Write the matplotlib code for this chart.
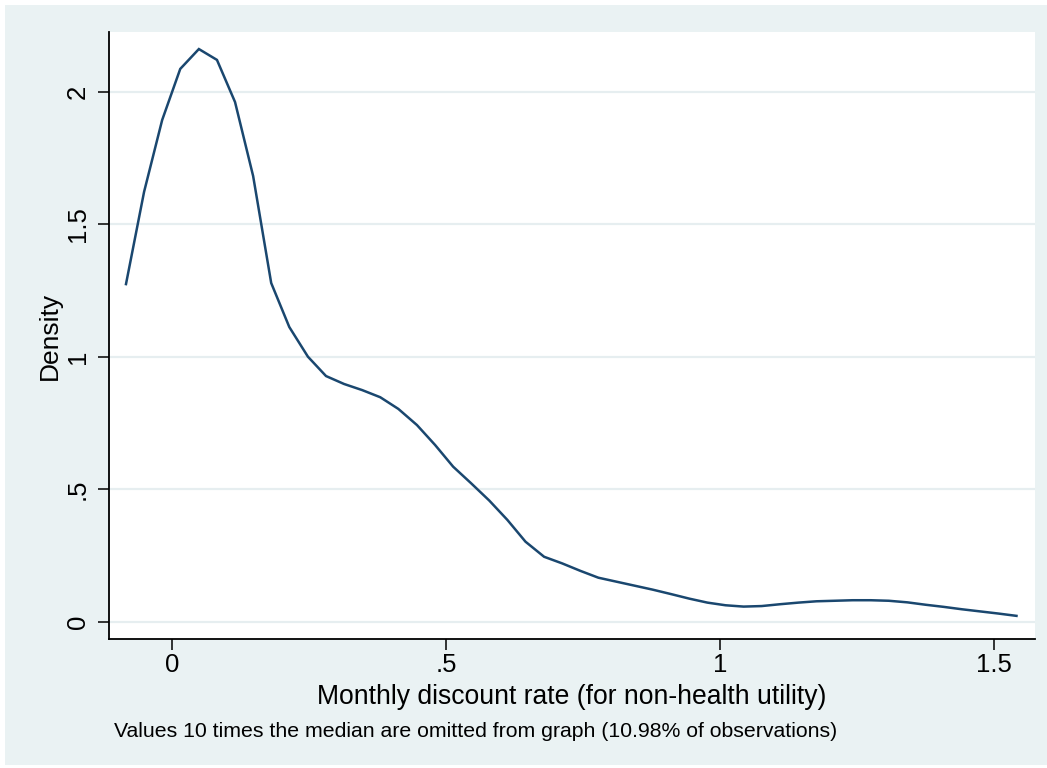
import matplotlib
matplotlib.use("Agg")
import matplotlib.pyplot as plt
from matplotlib.patches import Rectangle

# ---- data ----
rate = [-0.084, -0.051, -0.018, 0.015, 0.049, 0.082, 0.115, 0.148, 0.181, 0.214,
        0.248, 0.281, 0.314, 0.347, 0.380, 0.413, 0.447, 0.480, 0.513, 0.546,
        0.579, 0.612, 0.645, 0.679, 0.712, 0.745, 0.778, 0.811, 0.844, 0.877,
        0.911, 0.944, 0.977, 1.010, 1.043, 1.076, 1.110, 1.143, 1.176, 1.209,
        1.242, 1.275, 1.308, 1.342, 1.375, 1.408, 1.441, 1.474, 1.507, 1.541]
density = [1.274, 1.622, 1.893, 2.086, 2.161, 2.120, 1.961, 1.682, 1.278, 1.112,
           1.000, 0.927, 0.897, 0.874, 0.847, 0.803, 0.742, 0.667, 0.585, 0.522,
           0.457, 0.384, 0.302, 0.245, 0.220, 0.192, 0.166, 0.151, 0.136, 0.121,
           0.104, 0.087, 0.072, 0.062, 0.057, 0.059, 0.066, 0.072, 0.077, 0.079,
           0.081, 0.081, 0.079, 0.073, 0.064, 0.056, 0.047, 0.039, 0.031, 0.022]
xticks = [0, 0.5, 1, 1.5]
xticklabels = ["0", ".5", "1", "1.5"]
yticks = [0, 0.5, 1, 1.5, 2]
yticklabels = ["0", ".5", "1", "1.5", "2"]
xlabel = "Monthly discount rate (for non-health utility)"
ylabel = "Density"
note = "Values 10 times the median are omitted from graph (10.98% of observations)"

plt.rcParams['font.family'] = ['Liberation Sans', 'DejaVu Sans']

W, H = 1047, 768
fig = plt.figure(figsize=(W / 100, H / 100), dpi=100, facecolor='white')
bg = '#EAF2F3'
fig.patches.append(Rectangle((5 / W, 3 / H), (W - 5) / W, (H - 8) / H,
                             transform=fig.transFigure, facecolor=bg,
                             edgecolor='none', zorder=-10))

L, R, T, B = 109, 1035, 32, 639
ax = fig.add_axes([L / W, (H - B) / H, (R - L) / W, (B - T) / H])
ax.set_zorder(5)
ax.set_facecolor('white')
ax.plot(rate, density, color='#1a476f', lw=1.8, solid_joinstyle='miter', zorder=3)

ax.set_xlim(-0.1150, 1.5748)
ax.set_ylim(-0.0653, 2.2253)
ax.set_xticks(xticks)
ax.set_xticklabels(xticklabels)
ax.set_yticks(yticks)
ax.set_yticklabels(yticklabels, rotation=90, va='center')
for y in yticks:
    ax.axhline(y, color='#E6EEF0', lw=1.6, zorder=1)

for s in ['top', 'right']:
    ax.spines[s].set_visible(False)
for s in ['left', 'bottom']:
    ax.spines[s].set_color('black')
    ax.spines[s].set_linewidth(1.3)
ax.tick_params(axis='both', direction='out', length=7.6, width=1.1,
               color='black', labelsize=18.5, labelcolor='black')
ax.tick_params(axis='x', pad=2.5)
ax.tick_params(axis='y', pad=6)

fig.text((L + R) / 2 / W, (H - 704) / H, xlabel, ha='center', va='baseline',
         fontsize=19.1, color='black')
fig.text(50 / W, (H - (T + B) / 2) / H, ylabel, ha='center', va='center',
         rotation=90, fontsize=19, color='black')
fig.text(114 / W, (H - 737) / H, note, ha='left', va='baseline',
         fontsize=15.3, color='black')

fig.savefig('out.png', dpi=100, facecolor='white')
